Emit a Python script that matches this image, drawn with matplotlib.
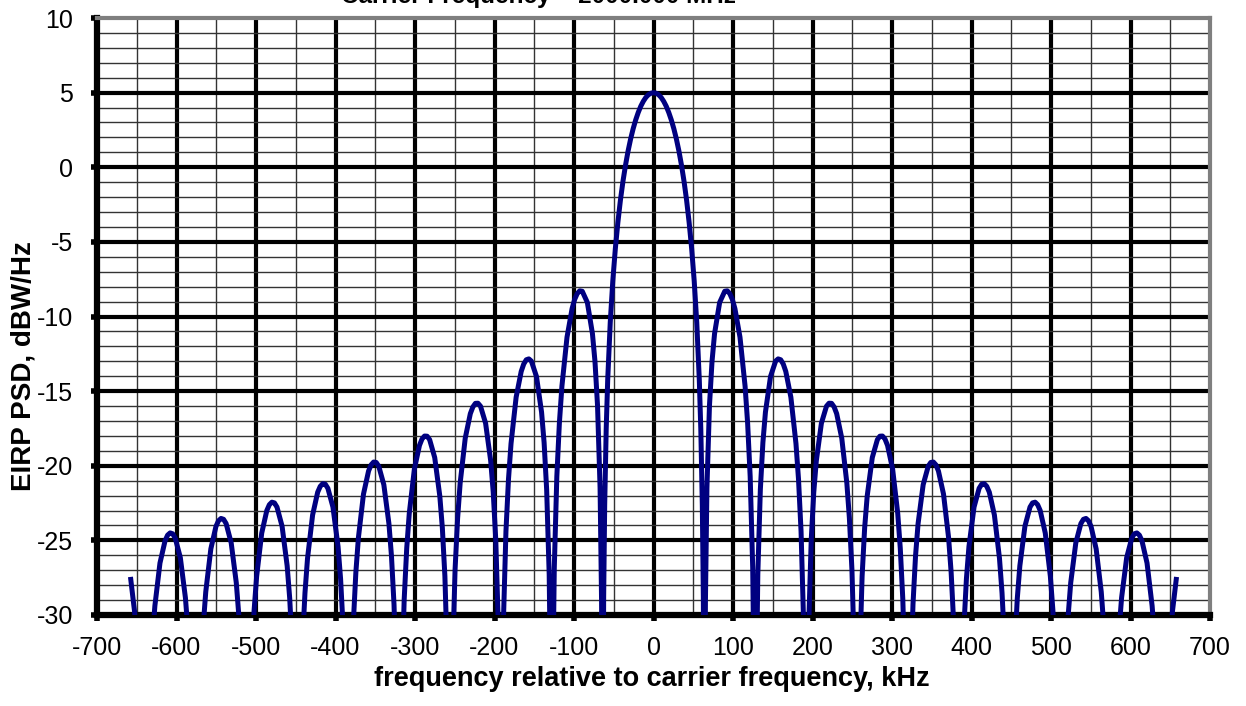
import numpy as np
import matplotlib
matplotlib.use("Agg")
import matplotlib.pyplot as plt
from matplotlib.ticker import MultipleLocator

# spectrum, right half (kHz, dBW/Hz); the chart is symmetric about 0
freq_pos = [
    0.0, 3.2, 6.4, 9.6, 12.8, 16.0, 19.2, 22.4, 25.6, 28.8, 32.0, 35.2, 38.4, 41.6, 44.8, 48.0,
    51.2, 54.4, 57.6, 59.5, 61.4, 62.7, 64.0,
    65.3, 67.2, 70.4, 73.6, 76.8, 83.2, 89.6, 92.8, 96.0, 99.2, 102.4, 108.8, 115.2, 118.4, 121.6, 124.8, 126.7, 128.0,
    129.3, 131.2, 134.4, 137.6, 140.8, 147.2, 153.6, 156.8, 160.0, 163.2, 166.4, 172.8, 179.2, 182.4, 185.6, 188.8, 190.7, 192.0,
    195.2, 198.4, 201.6, 204.8, 211.2, 217.6, 220.8, 224.0, 227.2, 230.4, 236.8, 243.2, 246.4, 249.6, 252.8, 256.0,
    259.2, 262.4, 265.6, 268.8, 275.2, 281.6, 284.8, 288.0, 291.2, 294.4, 300.8, 307.2, 310.4, 313.6, 316.8, 320.0,
    323.2, 326.4, 329.6, 332.8, 339.2, 345.6, 348.8, 352.0, 355.2, 358.4, 364.8, 371.2, 374.4, 377.6, 380.8, 384.0,
    387.2, 390.4, 393.6, 396.8, 403.2, 409.6, 412.8, 416.0, 419.2, 422.4, 428.8, 435.2, 438.4, 441.6, 444.8, 448.0,
    451.2, 454.4, 457.6, 460.8, 467.2, 473.6, 476.8, 480.0, 483.2, 486.4, 492.8, 499.2, 502.4, 505.6, 508.8, 512.0,
    515.2, 518.4, 521.6, 524.8, 531.2, 537.6, 540.8, 544.0, 547.2, 550.4, 556.8, 563.2, 566.4, 569.6, 572.8, 576.0,
    579.2, 582.4, 585.6, 588.8, 595.2, 601.6, 604.8, 608.0, 611.2, 614.4, 620.8, 627.2, 630.4, 633.6, 636.8, 640.0,
    646.4, 649.6, 652.8, 657.9,
]
psd_pos = [
    5.00, 4.96, 4.86, 4.68, 4.42, 4.09, 3.67, 3.17, 2.58, 1.89, 1.08, 0.14, -0.94, -2.20, -3.69, -5.45,
    -7.62, -10.39, -14.23, -17.54, -22.63, -28.81, -45,
    -29.16, -21.48, -15.97, -13.02, -11.15, -9.06, -8.31, -8.28, -8.47, -8.86, -9.47, -11.39, -14.67, -17.15, -20.72, -26.85, -34.92, -45,
    -35.09, -27.29, -21.59, -18.45, -16.41, -14.02, -12.99, -12.84, -12.90, -13.18, -13.68, -15.41, -18.51, -20.90, -24.39, -30.45, -38.47, -45,
    -30.74, -24.97, -21.77, -19.67, -17.15, -16.01, -15.81, -15.82, -16.06, -16.51, -18.15, -21.16, -23.51, -26.96, -32.99, -45,
    -33.20, -27.40, -24.16, -22.03, -19.45, -18.25, -18.02, -18.01, -18.21, -18.64, -20.23, -23.19, -25.52, -28.95, -34.95, -45,
    -35.12, -29.29, -26.04, -23.88, -21.27, -20.03, -19.78, -19.75, -19.94, -20.35, -21.90, -24.83, -27.15, -30.56, -36.54, -45,
    -36.69, -30.85, -27.58, -25.41, -22.77, -21.51, -21.24, -21.20, -21.38, -21.77, -23.30, -26.21, -28.52, -31.92, -37.89, -45,
    -38.02, -32.17, -28.89, -26.71, -24.05, -22.77, -22.49, -22.44, -22.61, -23.00, -24.51, -27.41, -29.70, -33.10, -39.06, -45,
    -39.17, -33.31, -30.03, -27.84, -25.17, -23.87, -23.59, -23.53, -23.69, -24.07, -25.57, -28.45, -30.74, -34.13, -40.09, -45,
    -40.19, -34.32, -31.03, -28.84, -26.15, -24.85, -24.56, -24.50, -24.65, -25.03, -26.52, -29.39, -31.67, -35.06, -41.01, -45,
    -35.23, -31.93, -29.74, -27.45,
]

title = "Carrier Frequency = 2000.000 MHz"
xlabel = "frequency relative to carrier frequency, kHz"
ylabel = "EIRP PSD, dBW/Hz"

plt.rcParams['font.family'] = ['Liberation Sans', 'DejaVu Sans']
plt.rcParams['axes.unicode_minus'] = False

# mirror the right half to get the whole spectrum
freq = np.concatenate([-np.array(freq_pos[:0:-1]), np.array(freq_pos)])
psd = np.concatenate([np.array(psd_pos[:0:-1]), np.array(psd_pos)])

fig = plt.figure(figsize=(12.46, 7.06), dpi=100)
ax = fig.add_axes([97 / 1246, 1 - 615 / 706, (1210 - 97) / 1246, (615 - 18) / 706])

ax.set_xlim(-700, 700)
ax.set_ylim(-30, 10)

# grid: thin lines every 50 kHz / 1 dB, heavy lines every 100 kHz / 5 dB
for x in np.arange(-650, 700, 50):
    heavy = x % 100 == 0
    ax.axvline(x, color='black' if heavy else '#333333', lw=3.0 if heavy else 1.0, zorder=1)
for y in np.arange(-29, 10, 1):
    heavy = y % 5 == 0
    ax.axhline(y, color='black' if heavy else '#333333', lw=3.0 if heavy else 1.0, zorder=1)

ax.plot(freq, psd, color='#000080', lw=3.6, zorder=3,
        solid_joinstyle='round', solid_capstyle='butt')

ax.xaxis.set_major_locator(MultipleLocator(100))
ax.yaxis.set_major_locator(MultipleLocator(5))
ax.tick_params(direction='out', length=4, width=4, labelsize=18, pad=11)
ax.tick_params(axis='y', pad=13)

for side in ['left', 'bottom']:
    ax.spines[side].set_linewidth(4.5)
    ax.spines[side].set_color('black')
for side in ['top', 'right']:
    ax.spines[side].set_linewidth(3)
    ax.spines[side].set_color('#7f7f7f')

fig.text(652 / 1246, 1 - 686 / 706, xlabel, ha='center', va='baseline',
         fontsize=19.5, fontweight='bold')
fig.text(24 / 1246, 1 - 366 / 706, ylabel, ha='center', va='center',
         rotation=90, fontsize=20, fontweight='bold')

fig.text(538 / 1246, 1 - 3 / 706, title, ha='center', va='baseline',
         fontsize=17.5, fontweight='bold')

fig.savefig("out.png", dpi=100)
